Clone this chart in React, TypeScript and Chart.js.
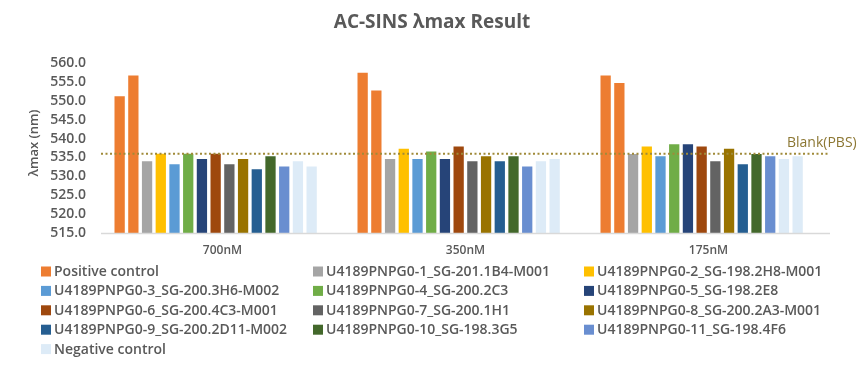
import React, { useEffect, useRef } from "react";
import { Chart, registerables } from "chart.js";

Chart.register(...registerables);

const TITLE = "AC-SINS λmax Result";
const Y_TITLE = "λmax (nm)";
const CATEGORIES = ["700nM", "350nM", "175nM"];
const BLANK_LABEL = "Blank(PBS)";
const BLANK_VALUE = 536.0;
const Y_MIN = 515;
const Y_MAX = 560;
const Y_STEP = 5;

// bar series (two replicate bars for the positive and negative controls)
const posCtrlA = [551.2, 557.4, 556.7];
const posCtrlB = [556.7, 552.7, 554.7];
const s1 = [534.0, 534.6, 535.9];
const s2 = [536.0, 537.3, 537.9];
const s3 = [533.2, 534.6, 535.3];
const s4 = [536.0, 536.6, 538.5];
const s5 = [534.6, 534.6, 538.5];
const s6 = [536.0, 537.9, 537.9];
const s7 = [533.2, 534.0, 534.0];
const s8 = [534.6, 535.3, 537.3];
const s9 = [531.9, 534.0, 533.2];
const s10 = [535.3, 535.3, 535.9];
const s11 = [532.6, 532.6, 535.3];
const negCtrlA = [534.0, 534.0, 534.6];
const negCtrlB = [532.6, 534.6, 535.3];

const SERIES_NAMES = [
  "Positive control",
  "U4189PNPG0-1_SG-201.1B4-M001",
  "U4189PNPG0-2_SG-198.2H8-M001",
  "U4189PNPG0-3_SG-200.3H6-M002",
  "U4189PNPG0-4_SG-200.2C3",
  "U4189PNPG0-5_SG-198.2E8",
  "U4189PNPG0-6_SG-200.4C3-M001",
  "U4189PNPG0-7_SG-200.1H1",
  "U4189PNPG0-8_SG-200.2A3-M001",
  "U4189PNPG0-9_SG-200.2D11-M002",
  "U4189PNPG0-10_SG-198.3G5",
  "U4189PNPG0-11_SG-198.4F6",
  "Negative control",
];
const SERIES_COLORS = [
  "#ED7D31",
  "#A5A5A5",
  "#FFC000",
  "#5B9BD5",
  "#70AD47",
  "#264478",
  "#9E480E",
  "#636363",
  "#997300",
  "#255E91",
  "#43682B",
  "#698ED0",
  "#DDEBF7",
];

// bars in drawing order: [series index, values]
const BARS: [number, number[]][] = [
  [0, posCtrlA],
  [0, posCtrlB],
  [1, s1],
  [2, s2],
  [3, s3],
  [4, s4],
  [5, s5],
  [6, s6],
  [7, s7],
  [8, s8],
  [9, s9],
  [10, s10],
  [11, s11],
  [12, negCtrlA],
  [12, negCtrlB],
];

const FONT = "'Open Sans', 'Noto Sans', sans-serif";
const TEXT = "#595959";

const overlay = {
  id: "overlay",
  afterDatasetsDraw(chart: any) {
    const { ctx, chartArea, scales } = chart;
    const y = scales.y;
    ctx.save();
    // baseline
    const by = y.getPixelForValue(Y_MIN);
    ctx.strokeStyle = "#D9D9D9";
    ctx.lineWidth = 1.5;
    ctx.beginPath();
    ctx.moveTo(chartArea.left, by + 0.5);
    ctx.lineTo(chartArea.right, by + 0.5);
    ctx.stroke();
    // blank line
    const ly = y.getPixelForValue(BLANK_VALUE);
    ctx.strokeStyle = "#A08A38";
    ctx.lineWidth = 2;
    ctx.setLineDash([2, 2.5]);
    ctx.beginPath();
    ctx.moveTo(chartArea.left, ly);
    ctx.lineTo(chartArea.right, ly);
    ctx.stroke();
    ctx.setLineDash([]);
    ctx.fillStyle = "#8C7733";
    ctx.font = `14px ${FONT}`;
    ctx.textAlign = "left";
    ctx.textBaseline = "middle";
    ctx.fillText(BLANK_LABEL, chartArea.right - 43, ly - 11);
    ctx.restore();
  },
  afterDraw(chart: any) {
    const { ctx, chartArea } = chart;
    ctx.save();
    // title
    ctx.fillStyle = TEXT;
    ctx.font = `bold 19px ${FONT}`;
    ctx.textAlign = "center";
    ctx.textBaseline = "middle";
    ctx.fillText(TITLE, 432, 23);
    // y title
    ctx.save();
    ctx.translate(34, (chartArea.top + chartArea.bottom) / 2 - 5);
    ctx.rotate(-Math.PI / 2);
    ctx.font = `600 13px ${FONT}`;
    ctx.fillText(Y_TITLE, 0, 0);
    ctx.restore();
    // legend
    const colX = [41, 313, 584];
    const rowY0 = 271.5;
    const rowH = 19.4;
    ctx.font = `600 14px ${FONT}`;
    ctx.textAlign = "left";
    SERIES_NAMES.forEach((name, i) => {
      const col = i % 3;
      const row = Math.floor(i / 3);
      const x = colX[col];
      const yy = rowY0 + row * rowH;
      ctx.fillStyle = SERIES_COLORS[i];
      ctx.fillRect(x, yy - 5, 10, 10);
      ctx.fillStyle = TEXT;
      ctx.fillText(name, x + 13, yy + 0.5);
    });
    ctx.restore();
  },
};

export default function App() {
  const ref = useRef<HTMLCanvasElement>(null);
  useEffect(() => {
    if (!ref.current) return;
    const datasets: any[] = BARS.map(([si, vals]) => ({
      label: SERIES_NAMES[si],
      data: vals,
      backgroundColor: SERIES_COLORS[si],
      borderWidth: 0,
    }));
    // empty slot series (reserved position in each group)
    datasets.push({
      label: "",
      data: CATEGORIES.map(() => null),
      backgroundColor: "rgba(0,0,0,0)",
    });
    const chart = new Chart(ref.current, {
      type: "bar",
      data: { labels: CATEGORIES, datasets },
      options: {
        animation: false,
        responsive: false,
        maintainAspectRatio: false,
        layout: { padding: { left: 0, right: 34, top: 63, bottom: 102 } },
        datasets: {
          bar: { categoryPercentage: 0.903, barPercentage: 0.75 },
        } as any,
        plugins: {
          legend: { display: false },
          title: { display: false },
          tooltip: { enabled: false },
        },
        scales: {
          x: {
            grid: { display: false, drawTicks: false },
            border: { display: false },
            ticks: {
              color: TEXT,
              font: { family: FONT, size: 12, weight: "600" as any },
              padding: 10,
            },
            afterFit: (s: any) => {
              s.height = 30;
            },
          },
          y: {
            min: Y_MIN,
            max: Y_MAX,
            grid: { display: false, drawTicks: false },
            border: { display: false },
            ticks: {
              stepSize: Y_STEP,
              autoSkip: false,
              color: TEXT,
              font: { family: FONT, size: 14, weight: "600" as any },
              padding: 15,
              callback: (v: any) => Number(v).toFixed(1),
            },
            afterFit: (s: any) => {
              s.width = 101;
            },
          },
        },
      },
      plugins: [overlay],
    });
    return () => chart.destroy();
  }, []);
  return (
    <div style={{ position: "fixed", left: 0, top: 0, width: 864, height: 365, background: "#fff" }}>
      <canvas ref={ref} width={864} height={365} style={{ width: 864, height: 365 }} />
    </div>
  );
}
